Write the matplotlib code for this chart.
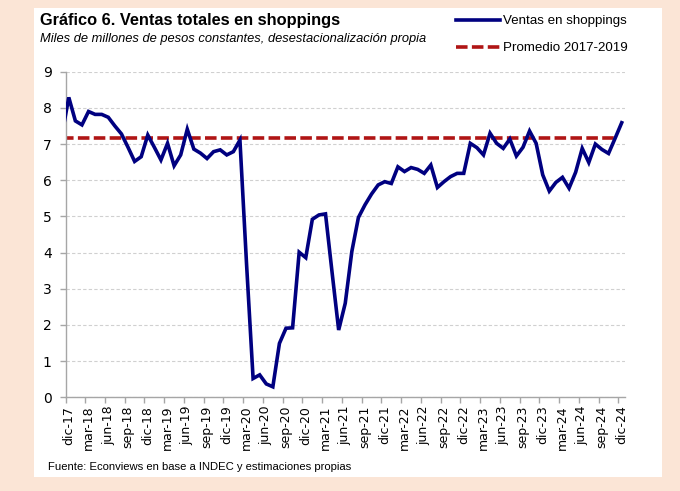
import matplotlib
matplotlib.use("Agg")
import matplotlib.pyplot as plt
from matplotlib.patches import Rectangle
from matplotlib.ticker import FixedLocator

# monthly series, nov-17 (partly cut by the axis) to dic-24
ventas = [
    7.30,
    8.29, 7.64, 7.53, 7.90, 7.82, 7.82, 7.74, 7.50, 7.28, 6.91, 6.52, 6.65,
    7.25, 6.91, 6.56, 7.02, 6.40, 6.70, 7.41, 6.86, 6.75, 6.60, 6.79, 6.84,
    6.70, 6.79, 7.11, 3.70, 0.52, 0.62, 0.37, 0.29, 1.49, 1.91, 1.92, 4.01,
    3.86, 4.92, 5.04, 5.07, 3.45, 1.86, 2.60, 4.03, 4.97, 5.32, 5.62, 5.87,
    5.96, 5.91, 6.37, 6.24, 6.35, 6.30, 6.19, 6.42, 5.80, 5.96, 6.10, 6.19,
    6.19, 7.02, 6.90, 6.70, 7.30, 7.02, 6.88, 7.14, 6.67, 6.91, 7.36, 7.02,
    6.15, 5.70, 5.94, 6.08, 5.78, 6.22, 6.88, 6.49, 7.00, 6.85, 6.74, 7.16,
    7.59,
]
promedio = 7.18
promedio_hasta = 83  # the average series stops at nov-24

tick_labels = [
    "dic-17", "mar-18", "jun-18", "sep-18", "dic-18", "mar-19", "jun-19",
    "sep-19", "dic-19", "mar-20", "jun-20", "sep-20", "dic-20", "mar-21",
    "jun-21", "sep-21", "dic-21", "mar-22", "jun-22", "sep-22", "dic-22",
    "mar-23", "jun-23", "sep-23", "dic-23", "mar-24", "jun-24", "sep-24",
    "dic-24",
]

W, H = 680, 491
NAVY = "#000080"
RED = "#B01515"
PEACH = "#FBE5D6"
sans = ["Liberation Sans", "DejaVu Sans"]

fig = plt.figure(figsize=(W / 100, H / 100), dpi=100)
fig.patch.set_facecolor(PEACH)
fig.add_artist(Rectangle((34 / W, 1 - 477 / H), (662 - 34) / W, (477 - 8) / H,
                         transform=fig.transFigure, facecolor="white",
                         edgecolor="none", zorder=0))

ax = fig.add_axes([65.5 / W, 1 - 397.3 / H, (625 - 65.5) / W, (397.3 - 71.7) / H])
ax.set_facecolor("none")

x = list(range(-1, len(ventas) - 1))
ax.plot(x, ventas, color=NAVY, lw=2.6, solid_joinstyle="miter",
        label="Ventas en shoppings", zorder=3)
x_prom = list(range(-1, promedio_hasta + 1))
ax.plot(x_prom, [promedio] * len(x_prom), color=RED, lw=2.6,
        dashes=(3.2, 1.2), label="Promedio 2017-2019", zorder=2)

n = len(ventas) - 1
ax.set_xlim(-0.5, n - 0.5)
ax.set_ylim(0, 9)
ax.set_yticks(range(0, 10))
ax.yaxis.grid(True, color="#d0d0d0", lw=0.8, ls=(0, (3, 2)))
ax.set_axisbelow(True)

major = list(range(0, n, 3))
ax.xaxis.set_major_locator(FixedLocator(major))
ax.set_xticklabels(tick_labels, rotation=90, fontsize=9, family="DejaVu Sans")
ax.xaxis.set_minor_locator(FixedLocator([m - 0.5 for m in major]))
ax.tick_params(axis="x", which="major", length=0, pad=6)
ax.tick_params(axis="x", which="minor", length=4, color="#a6a6a6", width=1)
ax.tick_params(axis="y", length=4, color="#a6a6a6", width=1, pad=6,
               labelsize=10)

for side in ("top", "right"):
    ax.spines[side].set_visible(False)
for side in ("left", "bottom"):
    ax.spines[side].set_color("#a6a6a6")
    ax.spines[side].set_linewidth(1)

fig.text(40 / W, 1 - 25 / H, "Gráfico 6. Ventas totales en shoppings",
         family=sans, weight="bold", fontsize=11.8, va="baseline")
fig.text(40 / W, 1 - 42 / H,
         "Miles de millones de pesos constantes, desestacionalización propia",
         family=sans, style="italic", fontsize=9.3, va="baseline")
fig.text(48 / W, 1 - 470 / H,
         "Fuente: Econviews en base a INDEC y estimaciones propias",
         family=sans, fontsize=8.1, va="baseline")

fig.legend(loc="upper left", bbox_to_anchor=(456 / W, 1 - 15 / H),
           frameon=False, prop={"family": sans, "size": 9.6},
           handlelength=3.3, handletextpad=0.25, labelspacing=1.1,
           borderpad=0, borderaxespad=0)

fig.savefig("out.png", dpi=100, facecolor=fig.get_facecolor())
